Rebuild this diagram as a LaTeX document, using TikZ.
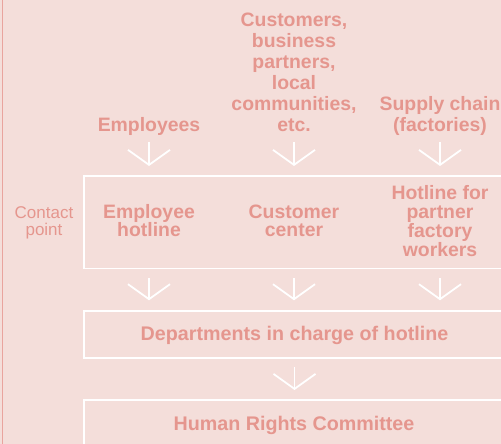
\documentclass[tikz,border=0pt]{standalone}
\usepackage{fontspec}
\setmainfont{Liberation Sans}
\usetikzlibrary{arrows.meta,calc}
\definecolor{bg}{HTML}{F4DEDA}
\definecolor{salmon}{HTML}{E5968E}
\definecolor{edgeline}{HTML}{E9A49E}
\begin{document}
\begin{tikzpicture}[x=1bp,y=-1bp,
  lbl/.style={text=salmon, font={\bfseries\fontsize{19.4bp}{21bp}\selectfont}, align=center, inner sep=0pt},
  boxlbl/.style={lbl, font={\bfseries\fontsize{19.4bp}{18.7bp}\selectfont}},
  sidelbl/.style={text=salmon, font={\fontsize{17bp}{17.5bp}\selectfont}, align=center, inner sep=0pt},
  frame/.style={draw=white, line width=1.8bp, inner sep=0pt, anchor=north west, minimum width=440bp},
  chev/.style={draw=white, line width=1.8bp, -{Straight Barb[length=15bp,width=42bp]}}]
\fill[bg] (0,0) rectangle (501,444);
\useasboundingbox (0,0) rectangle (501,444);
\clip (0,0) rectangle (501,444);
\draw[edgeline, line width=1.2bp] (2.3,0) -- (2.3,444);
% boxes
\node[frame, minimum height=92.5bp] (b1) at (82.7,175) {};
\node[frame, minimum height=46.7bp] (b2) at (82.7,310.3) {};
\node[frame, minimum height=60bp] (b3) at (82.7,399) {};
% top labels (base anchor = baseline of last line)
\node[lbl, anchor=base] (emp) at (149,132) {Employees};
\node[lbl, anchor=base] (cus) at (294,132) {Customers,\\business\\partners,\\local\\communities,\\etc.};
\node[lbl, anchor=base] (sup) at (440,132) {Supply chain\\(factories)};
% box labels
\node[sidelbl, anchor=base] (cp) at (44,236) {Contact\\point};
\node[boxlbl, anchor=base] (eh) at (149,237) {Employee\\hotline};
\node[boxlbl, anchor=base] (cc) at (294,237) {Customer\\center};
\node[boxlbl, anchor=base] (pf) at (440,256) {Hotline for\\partner\\factory\\workers};
\node[lbl, anchor=base, font={\bfseries\fontsize{19.7bp}{21bp}\selectfont}] (dep) at (294.5,340.7) {Departments in charge of hotline};
\node[lbl, anchor=base, font={\bfseries\fontsize{19.7bp}{21bp}\selectfont}] (hrc) at (294,430) {Human Rights Committee};
% arrows
\coordinate (toprow) at (0,142);
\draw[chev] (emp |- toprow) -- ($(emp |- b1.north)+(0,-9)$);
\draw[chev] (cus |- toprow) -- ($(cus |- b1.north)+(0,-9)$);
\draw[chev] (sup |- toprow) -- ($(sup |- b1.north)+(0,-9)$);
\draw[chev] ($(eh |- b1.south)+(0,9)$) -- ($(eh |- b2.north)+(0,-10)$);
\draw[chev] ($(cc |- b1.south)+(0,9)$) -- ($(cc |- b2.north)+(0,-10)$);
\draw[chev] ($(pf |- b1.south)+(0,9)$) -- ($(pf |- b2.north)+(0,-10)$);
\draw[chev] ($(dep |- b2.south)+(0,8)$) -- ($(dep |- b3.north)+(0,-9)$);
\end{tikzpicture}
\end{document}
